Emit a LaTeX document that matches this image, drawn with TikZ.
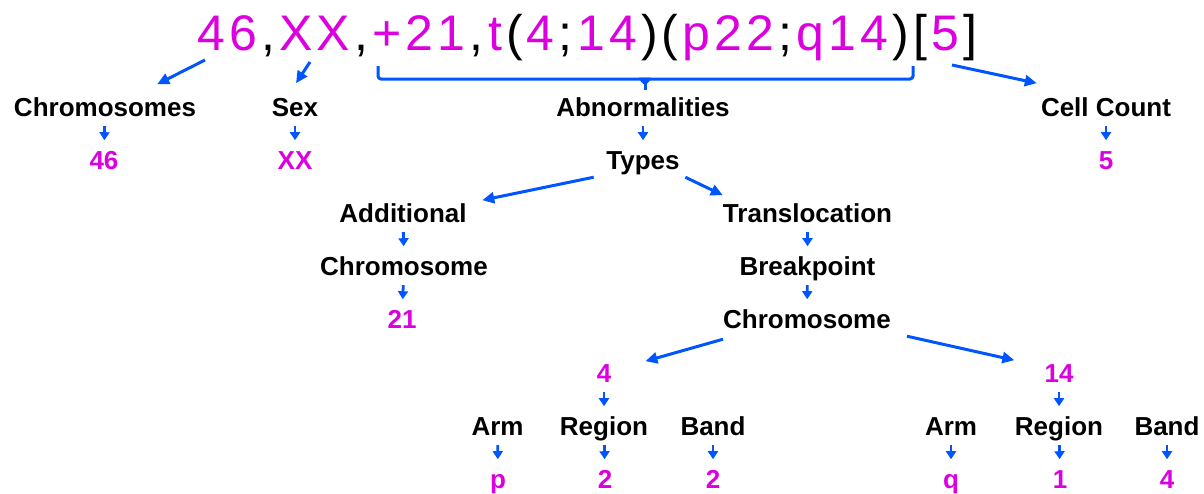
\documentclass[tikz,border=0pt]{standalone}
\usepackage{fontspec}
\setmainfont{Liberation Sans}
\usetikzlibrary{arrows.meta,calc}
\definecolor{mag}{RGB}{220,0,225}
\definecolor{arrblue}{RGB}{0,85,255}
\newcommand{\mg}[1]{\textcolor{mag}{#1}}
\newcommand{\ks}{\kern4.2pt}
\begin{document}
\begin{tikzpicture}[x=1pt,y=-1pt,
  lab/.style={font=\bfseries\fontsize{26}{26}\selectfont, text height=18.6pt, text depth=0pt, inner sep=0pt, anchor=base},
  val/.style={lab, text=mag},
  sarr/.style={draw=arrblue, line width=2.8pt, -{Triangle[length=8pt,width=10pt]}, shorten <=10pt, shorten >=10pt},
  larr/.style={draw=arrblue, line width=3pt, -{Triangle[length=12pt,width=11pt]}},
  brace/.style={draw=arrblue, line width=3pt}
]
\useasboundingbox (0,0) rectangle (1204,493);
\fill[white] (0,0) rectangle (1204,493);

% formula
\node[anchor=base west, inner sep=0pt, font=\fontsize{50}{50}\selectfont] (formula) at (197,50)
  {\mg{4}\ks\mg{6}\ks,\ks\mg{X}\ks\mg{X}\ks,\ks\mg{+}\ks\mg{2}\ks\mg{1}\ks,\ks\mg{t}\ks(\ks\mg{4}\ks;\ks\mg{1}\ks\mg{4}\ks)\ks(\ks\mg{p}\ks\mg{2}\ks\mg{2}\ks;\ks\mg{q}\ks\mg{1}\ks\mg{4}\ks)\ks[\ks\mg{5}\ks]};

% rows: 116,169,222,275,328,382,435,488
\node[lab] (chromo) at (105,116) {Chromosomes};
\node[val] (n46) at (104,169) {46};
\node[lab] (sex) at (295,116) {Sex};
\node[val] (xx) at (295,169) {XX};
\node[lab] (abn) at (643,116) {Abnormalities};
\node[lab] (types) at (643,169) {Types};
\node[lab] (cell) at (1106,116) {Cell Count};
\node[val] (five) at (1106,169) {5};

\node[lab] (add) at (403,222) {Additional};
\node[lab] (chromA) at (404,275) {Chromosome};
\node[val] (n21) at (402,328) {21};

\node[lab] (transl) at (807.5,222) {Translocation};
\node[lab] (bp) at (807.5,275) {Breakpoint};
\node[lab] (chromB) at (807,328) {Chromosome};

\node[val] (four) at (604,382) {4};
\node[val] (fourteen) at (1059,382) {14};

\node[lab] (arm1) at (497.5,435) {Arm};
\node[lab] (reg1) at (604,435) {Region};
\node[lab] (band1) at (713,435) {Band};
\node[val] (p) at (498,488) {p};
\node[val] (two1) at (605,488) {2};
\node[val] (two2) at (713,488) {2};

\node[lab] (arm2) at (951,435) {Arm};
\node[lab] (reg2) at (1059,435) {Region};
\node[lab] (band2) at (1167,435) {Band};
\node[val] (q) at (951,488) {q};
\node[val] (one) at (1060,488) {1};
\node[val] (four2) at (1167,488) {4};

% arrows from formula
\coordinate (s46) at (205,60);
\coordinate (sXX) at (310,62);
\coordinate (s5) at (952,65);
\draw[larr] (s46) -- ($(chromo.north east)+(-39,-13)$);
\draw[larr] (sXX) -- ($(sex.north)+(1,-14)$);
\draw[larr] (s5) -- ($(cell.north west)+(-4,-14)$);

% brace
\draw[brace, rounded corners=3pt] (378,66) |- (913,79) -- (913,66);
\draw[brace] (645,79) -- ($(abn.north)+(2,-7)$);
\fill[arrblue] (639,77.5) -- (651,77.5) to[bend left=20] (646.5,84) -- (643.5,84) to[bend left=20] cycle;

% short arrows
\draw[sarr] (chromo) -- (n46);
\draw[sarr] (sex) -- (xx);
\draw[sarr] (abn) -- (types);
\draw[sarr] (cell) -- (five);
\draw[sarr] (add) -- (chromA);
\draw[sarr] (chromA) -- (n21);
\draw[sarr] (transl) -- (bp);
\draw[sarr] (bp) -- (chromB);
\draw[sarr] (four) -- (reg1);
\draw[sarr] (fourteen) -- (reg2);
\draw[sarr] (arm1) -- (p);
\draw[sarr] (reg1) -- (two1);
\draw[sarr] (band1) -- (two2);
\draw[sarr] (arm2) -- (q);
\draw[sarr] (reg2) -- (one);
\draw[sarr] (band2) -- (four2);

% long arrows
\draw[larr] ($(types.south west)+(-12.5,8)$) -- ($(add.north east)+(15.5,-3)$);
\draw[larr] ($(types.south east)+(5.5,8)$) -- ($(transl.north west)+(0,-8)$);
\draw[larr] ($(chromB.south west)+(0,11)$) -- ($(four.north east)+(34,-2)$);
\draw[larr] ($(chromB.south east)+(16,8)$) -- ($(fourteen.north west)+(-30,-3)$);
\end{tikzpicture}
\end{document}
